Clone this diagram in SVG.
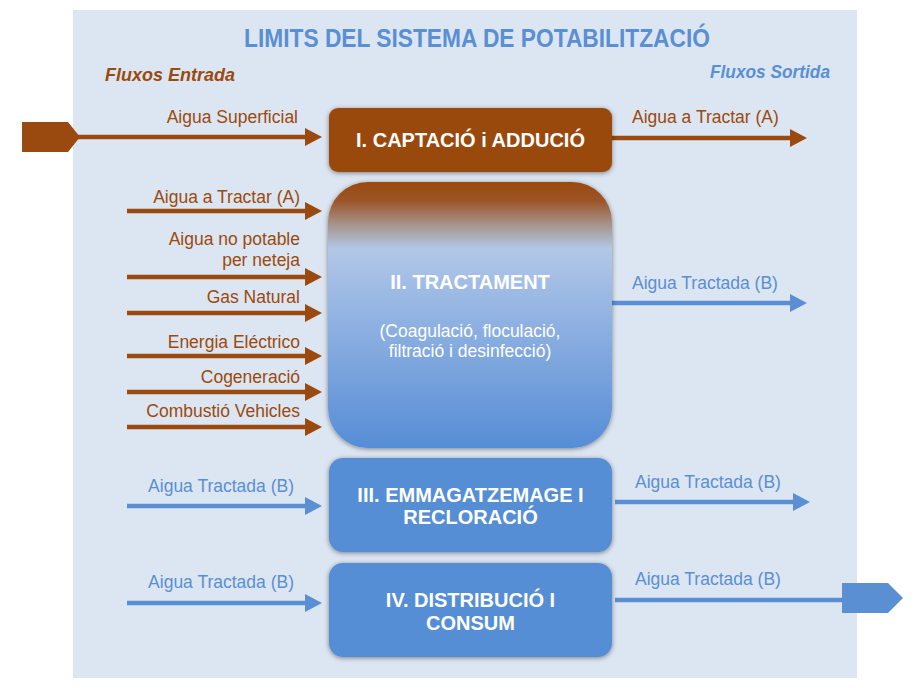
<svg xmlns="http://www.w3.org/2000/svg" width="920" height="689" viewBox="0 0 920 689">
<style>
text{font-family:"Liberation Sans",Arial,sans-serif}
.lbl{font-size:17.5px}
.br{fill:#9a4a0e}
.bl{fill:#5a8fd3}
.box{font-size:20px;font-weight:bold;fill:#ffffff;text-anchor:middle}
.sub{font-size:17.5px;fill:#ffffff;text-anchor:middle}
.lb{stroke:#9a4a0e;stroke-width:4.5;fill:none}
.ll{stroke:#5a8fd3;stroke-width:4.5;fill:none}
</style>
<defs>
<filter id="sh" x="-10%" y="-10%" width="120%" height="120%">
<feDropShadow dx="0" dy="1" stdDeviation="2.5" flood-color="#000" flood-opacity="0.45"/>
</filter>
<linearGradient id="g2" x1="0" y1="0" x2="0" y2="1">
<stop offset="0" stop-color="#9a4a0e"/>
<stop offset="0.07" stop-color="#9c5428"/>
<stop offset="0.16" stop-color="#a6948c"/>
<stop offset="0.25" stop-color="#b2c7e6"/>
<stop offset="0.35" stop-color="#a5bfe6"/>
<stop offset="1" stop-color="#568dd6"/>
</linearGradient>
<polygon id="hb" points="-17,-9 0,0 -17,9" fill="#9a4a0e"/>
<polygon id="hl" points="-17,-9 0,0 -17,9" fill="#5a8fd3"/>
</defs>
<rect x="73" y="10" width="784" height="668" fill="#dce6f2"/>
<text x="477" y="47" text-anchor="middle" font-size="25" font-weight="bold" fill="#5a8fd3" textLength="466" lengthAdjust="spacingAndGlyphs">LIMITS DEL SISTEMA DE POTABILITZACIÓ</text>
<text x="105" y="81" font-size="18" font-weight="bold" font-style="italic" class="br" textLength="130" lengthAdjust="spacingAndGlyphs">Fluxos Entrada</text>
<text x="710" y="78" font-size="17.5" font-weight="bold" font-style="italic" class="bl" textLength="120" lengthAdjust="spacingAndGlyphs">Fluxos Sortida</text>
<g id="connectors">
<polygon points="22,122 68,122 80,137 68,152 22,152" fill="#9a4a0e"/>
<line class="lb" x1="78" y1="137" x2="310" y2="137"/><use href="#hb" x="322" y="137"/>
<line class="lb" x1="612" y1="138" x2="795" y2="138"/><use href="#hb" x="807" y="138"/>
<line class="lb" x1="127" y1="211" x2="310" y2="211"/><use href="#hb" x="322" y="211"/>
<line class="lb" x1="127" y1="277" x2="310" y2="277"/><use href="#hb" x="322" y="277"/>
<line class="lb" x1="127" y1="313" x2="310" y2="313"/><use href="#hb" x="322" y="313"/>
<line class="lb" x1="127" y1="356" x2="310" y2="356"/><use href="#hb" x="322" y="356"/>
<line class="lb" x1="127" y1="392" x2="310" y2="392"/><use href="#hb" x="322" y="392"/>
<line class="lb" x1="127" y1="427" x2="310" y2="427"/><use href="#hb" x="322" y="427"/>
<line class="ll" x1="612" y1="303" x2="795" y2="303"/><use href="#hl" x="807" y="303"/>
<line class="ll" x1="127" y1="506" x2="310" y2="506"/><use href="#hl" x="322" y="506"/>
<line class="ll" x1="615" y1="502" x2="798" y2="502"/><use href="#hl" x="810" y="502"/>
<line class="ll" x1="127" y1="603" x2="310" y2="603"/><use href="#hl" x="322" y="603"/>
<line class="ll" x1="615" y1="600" x2="844" y2="600"/>
<polygon points="842,583 888,583 903,598 888,613 842,613" fill="#5a8fd3"/>
<text class="lbl br" x="298" y="123" text-anchor="end">Aigua Superficial</text>
<text class="lbl br" x="632" y="123">Aigua a Tractar (A)</text>
<text class="lbl br" x="300" y="203" text-anchor="end">Aigua a Tractar (A)</text>
<text class="lbl br" x="300" y="245" text-anchor="end">Aigua no potable</text>
<text class="lbl br" x="300" y="266" text-anchor="end">per neteja</text>
<text class="lbl br" x="300" y="303" text-anchor="end">Gas Natural</text>
<text class="lbl br" x="300" y="348" text-anchor="end">Energia Eléctrico</text>
<text class="lbl br" x="300" y="383" text-anchor="end">Cogeneració</text>
<text class="lbl br" x="300" y="417" text-anchor="end">Combustió Vehicles</text>
<text class="lbl bl" x="632" y="289">Aigua Tractada (B)</text>
<text class="lbl bl" x="294" y="492" text-anchor="end">Aigua Tractada (B)</text>
<text class="lbl bl" x="635" y="488">Aigua Tractada (B)</text>
<text class="lbl bl" x="294" y="588" text-anchor="end">Aigua Tractada (B)</text>
<text class="lbl bl" x="635" y="585">Aigua Tractada (B)</text>
</g>
<g id="node1">
<rect x="329" y="108" width="283" height="64" rx="9" fill="#9a4a0e" filter="url(#sh)"/>
<text class="box" x="470.5" y="147">I. CAPTACIÓ i ADDUCIÓ</text>
</g>
<g id="node2">
<rect x="328" y="182" width="284" height="266" rx="40" fill="url(#g2)" filter="url(#sh)"/>
<text class="box" x="470" y="289">II. TRACTAMENT</text>
<text class="sub" x="470" y="337">(Coagulació, floculació,</text>
<text class="sub" x="470" y="357">filtració i desinfecció)</text>
</g>
<g id="node3">
<rect x="329" y="458" width="283" height="94" rx="14" fill="#558ed5" filter="url(#sh)"/>
<text class="box" x="470.5" y="502">III. EMMAGATZEMAGE I</text>
<text class="box" x="470.5" y="524">RECLORACIÓ</text>
</g>
<g id="node4">
<rect x="329" y="563" width="283" height="94" rx="14" fill="#558ed5" filter="url(#sh)"/>
<text class="box" x="470.5" y="607">IV. DISTRIBUCIÓ I</text>
<text class="box" x="470.5" y="630">CONSUM</text>
</g>
</svg>
